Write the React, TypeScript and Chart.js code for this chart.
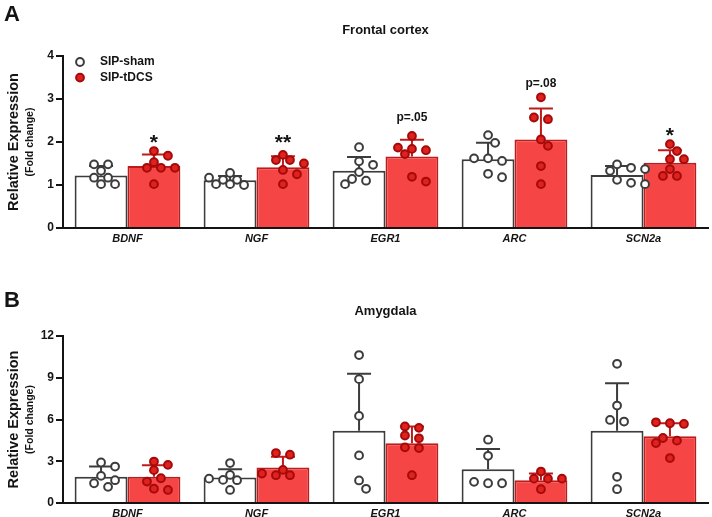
import React, { useEffect, useRef } from 'react';
import { Chart, registerables } from 'chart.js';

Chart.register(...registerables);

const FONT = '"Liberation Sans", Arial, Helvetica, sans-serif';
Chart.defaults.font.family = FONT;

// ---------- DATA ----------
const genes = ['BDNF', 'NGF', 'EGR1', 'ARC', 'SCN2a'];
const groupNames = ['SIP-sham', 'SIP-tDCS'];

// Panel A — Frontal cortex
const fcTitle = 'Frontal cortex';
const fcTicks = [0, 1, 2, 3, 4];
const fcShamMean = [1.22, 1.11, 1.33, 1.6, 1.23];
const fcShamSD = [0.22, 0.1, 0.32, 0.38, 0.21];
const fcTdcsMean = [1.44, 1.41, 1.66, 2.06, 1.52];
const fcTdcsSD = [0.27, 0.26, 0.39, 0.72, 0.29];
const fcShamDots = [
  [1.48, 1.48, 1.33, 1.17, 1.17, 1.02, 1.02],
  [1.28, 1.17, 1.12, 1.12, 1.02, 1.02, 1.0],
  [1.88, 1.55, 1.47, 1.3, 1.14, 1.1, 1.02],
  [2.16, 1.98, 1.62, 1.62, 1.56, 1.26, 1.18],
  [1.48, 1.4, 1.37, 1.33, 1.12, 1.05, 1.02],
];
const fcTdcsDots = [
  [1.79, 1.68, 1.53, 1.4, 1.4, 1.4, 1.02],
  [1.7, 1.58, 1.58, 1.5, 1.35, 1.25, 1.02],
  [2.14, 1.87, 1.84, 1.81, 1.72, 1.19, 1.08],
  [3.04, 2.57, 2.53, 2.06, 1.91, 1.44, 1.02],
  [1.95, 1.79, 1.6, 1.6, 1.37, 1.21, 1.21],
];
const fcSigText = ['*', '**', 'p=.05', 'p=.08', '*'];
const fcSigY = [1.84, 1.84, 2.5, 3.28, 2.0];

// Panel B — Amygdala
const amTitle = 'Amygdala';
const amTicks = [0, 3, 6, 9, 12];
const amShamMean = [1.88, 1.83, 5.2, 2.43, 5.2];
const amShamSD = [0.74, 0.6, 4.08, 1.45, 3.41];
const amTdcsMean = [1.88, 2.55, 4.3, 1.64, 4.79];
const amTdcsSD = [0.84, 0.77, 1.2, 0.48, 0.94];
const amShamDots = [
  [2.91, 2.62, 1.95, 1.64, 1.42, 1.16],
  [2.87, 2.02, 1.75, 1.66, 1.64, 0.94],
  [10.63, 8.9, 6.26, 3.42, 1.62, 1.02],
  [4.55, 3.39, 1.52, 1.42, 1.42],
  [10.0, 7.0, 5.97, 5.85, 1.88, 0.99],
];
const amTdcsDots = [
  [2.98, 2.74, 2.36, 1.78, 1.54, 1.03, 0.94],
  [3.59, 3.47, 2.38, 2.12, 2.0, 2.0],
  [5.5, 5.4, 4.85, 4.65, 4.0, 3.95, 2.0],
  [2.26, 1.75, 1.75, 1.75, 0.99],
  [5.8, 5.73, 5.68, 4.67, 4.48, 4.31, 3.23],
];
const amSigText: string[] = ['', '', '', '', ''];
const amSigY = [0, 0, 0, 0, 0];

// ---------- STYLE ----------
const INK = '#141414';
const SHAM_LINE = '#3c3c3c';
const RED_FILL = '#f54545';
const RED_BORDER = '#bd1c1c';
const RED_DOT = '#e0221f';
const RED_DOT_EDGE = '#a50a0a';
const DOT_R = 3.9;

type Spec = {
  letter: string;
  title: string;
  ticks: number[];
  shamMean: number[];
  shamSD: number[];
  tdcsMean: number[];
  tdcsSD: number[];
  shamDots: number[][];
  tdcsDots: number[][];
  sigText: string[];
  sigY: number[];
  legend: boolean;
  height: number;
  letterBase: number;
  titleY: number;
  areaTop: number;
  areaBottom: number;
};

function swarm(ys: number[]): number[] {
  const order = ys.map((_, i) => i).sort((a, b) => ys[a] - ys[b]);
  const placed: { x: number; y: number }[] = [];
  const out = new Array(ys.length).fill(0);
  const gap = 14;
  const minD = 8.5;
  let k = 0;
  while (k < order.length) {
    const row = [order[k]];
    let j = k + 1;
    while (j < order.length && ys[order[j]] - ys[order[k]] < 3) {
      row.push(order[j]);
      j++;
    }
    const n = row.length;
    const base = row.map((_, r) => (r - (n - 1) / 2) * gap);
    const shifts = [0, gap / 2, -gap / 2, gap, -gap, 1.5 * gap, -1.5 * gap];
    let chosen = 0;
    for (const s of shifts) {
      const ok = row.every((id, r) =>
        placed.every((p) => Math.hypot(p.x - (base[r] + s), p.y - ys[id]) >= minD)
      );
      if (ok) {
        chosen = s;
        break;
      }
    }
    row.forEach((id, r) => {
      out[id] = base[r] + chosen;
      placed.push({ x: out[id], y: ys[id] });
    });
    k = j;
  }
  return out;
}

function makeOverlay(spec: Spec) {
  return {
    id: 'overlay' + spec.letter,
    afterDatasetsDraw(chart: any) {
      const ctx: CanvasRenderingContext2D = chart.ctx;
      const yS = chart.scales.y;
      const series = [
        { mean: spec.shamMean, sd: spec.shamSD, dots: spec.shamDots, line: SHAM_LINE, fill: '#ffffff', edge: SHAM_LINE },
        { mean: spec.tdcsMean, sd: spec.tdcsSD, dots: spec.tdcsDots, line: RED_BORDER, fill: RED_DOT, edge: RED_DOT_EDGE },
      ];
      series.forEach((s, di) => {
        const meta = chart.getDatasetMeta(di);
        meta.data.forEach((bar: any, i: number) => {
          const x = bar.x;
          const yTop = yS.getPixelForValue(s.mean[i]);
          const yCap = yS.getPixelForValue(s.mean[i] + s.sd[i]);
          ctx.save();
          ctx.strokeStyle = s.line;
          ctx.lineWidth = 2;
          ctx.beginPath();
          ctx.moveTo(x, yTop);
          ctx.lineTo(x, yCap);
          ctx.moveTo(x - 12, yCap);
          ctx.lineTo(x + 12, yCap);
          ctx.stroke();
          const ys = s.dots[i].map((v) => yS.getPixelForValue(v));
          const offs = swarm(ys);
          ys.forEach((py, k) => {
            ctx.beginPath();
            ctx.arc(x + offs[k], py, DOT_R, 0, Math.PI * 2);
            ctx.fillStyle = s.fill;
            ctx.fill();
            ctx.lineWidth = 2;
            ctx.strokeStyle = s.edge;
            ctx.stroke();
          });
          ctx.restore();
        });
      });
      // significance labels
      const tMeta = chart.getDatasetMeta(1);
      ctx.save();
      ctx.fillStyle = INK;
      ctx.textAlign = 'center';
      ctx.textBaseline = 'alphabetic';
      spec.sigText.forEach((t, i) => {
        if (!t) return;
        const isStar = t.startsWith('*');
        ctx.font = isStar ? `bold 21px ${FONT}` : `bold 12px ${FONT}`;
        ctx.fillText(t, tMeta.data[i].x, yS.getPixelForValue(spec.sigY[i]));
      });
      ctx.restore();
    },
    afterDraw(chart: any) {
      const ctx: CanvasRenderingContext2D = chart.ctx;
      const area = chart.chartArea;
      ctx.save();
      ctx.fillStyle = INK;
      // panel letter
      ctx.font = `bold 22px ${FONT}`;
      ctx.textAlign = 'left';
      ctx.textBaseline = 'alphabetic';
      ctx.fillText(spec.letter, 4, spec.letterBase);
      // title
      ctx.font = `bold 13px ${FONT}`;
      ctx.textAlign = 'center';
      ctx.textBaseline = 'middle';
      ctx.fillText(spec.title, (area.left + area.right) / 2, spec.titleY);
      // y-axis title
      const cy = (area.top + area.bottom) / 2;
      ctx.save();
      ctx.translate(14, cy);
      ctx.rotate(-Math.PI / 2);
      ctx.font = `bold 14.5px ${FONT}`;
      ctx.textAlign = 'center';
      ctx.textBaseline = 'middle';
      ctx.fillText('Relative Expression', 0, 0);
      ctx.restore();
      ctx.save();
      ctx.translate(30, cy);
      ctx.rotate(-Math.PI / 2);
      ctx.font = `bold 10.5px ${FONT}`;
      ctx.textAlign = 'center';
      ctx.textBaseline = 'middle';
      ctx.fillText('(Fold change)', 0, 0);
      ctx.restore();
      // legend
      if (spec.legend) {
        const items = [
          { text: groupNames[0], fill: '#ffffff', edge: SHAM_LINE },
          { text: groupNames[1], fill: RED_DOT, edge: RED_DOT_EDGE },
        ];
        items.forEach((it, i) => {
          const ly = area.top + 6 + i * 15.6;
          ctx.beginPath();
          ctx.arc(area.left + 17, ly, DOT_R, 0, Math.PI * 2);
          ctx.fillStyle = it.fill;
          ctx.fill();
          ctx.lineWidth = 2;
          ctx.strokeStyle = it.edge;
          ctx.stroke();
          ctx.fillStyle = INK;
          ctx.font = `bold 12px ${FONT}`;
          ctx.textAlign = 'left';
          ctx.textBaseline = 'middle';
          ctx.fillText(it.text, area.left + 37, ly);
        });
      }
      ctx.restore();
    },
  };
}

function PanelChart({ spec }: { spec: Spec }) {
  const ref = useRef<HTMLCanvasElement>(null);
  useEffect(() => {
    const canvas = ref.current;
    if (!canvas) return;
    const maxTick = spec.ticks[spec.ticks.length - 1];
    const step = spec.ticks[1] - spec.ticks[0];
    const chart = new Chart(canvas, {
      type: 'bar',
      data: {
        labels: genes,
        datasets: [
          {
            label: groupNames[0],
            data: spec.shamMean,
            backgroundColor: '#ffffff',
            borderColor: SHAM_LINE,
            borderWidth: 2,
            categoryPercentage: 0.82,
            barPercentage: 1.0,
          },
          {
            label: groupNames[1],
            data: spec.tdcsMean,
            backgroundColor: RED_FILL,
            borderColor: RED_BORDER,
            borderWidth: 2,
            categoryPercentage: 0.82,
            barPercentage: 1.0,
          },
        ],
      },
      options: {
        responsive: false,
        maintainAspectRatio: false,
        animation: false,
        events: [],
        layout: { padding: { top: spec.areaTop, right: 4, left: 0, bottom: 0 } },
        plugins: {
          legend: { display: false },
          tooltip: { enabled: false },
          title: { display: false },
        },
        scales: {
          x: {
            type: 'category',
            offset: true,
            grid: { display: false, drawTicks: false },
            border: { display: true, color: INK, width: 2 },
            ticks: {
              color: INK,
              padding: 4,
              autoSkip: false,
              maxRotation: 0,
              font: { family: FONT, size: 11, weight: 'bold', style: 'italic' },
            },
            afterFit: (scale: any) => {
              scale.height = spec.height - spec.areaBottom;
            },
          },
          y: {
            min: 0,
            max: maxTick,
            ticks: {
              stepSize: step,
              color: INK,
              padding: 2,
              font: { family: FONT, size: 12, weight: 'bold' },
            },
            grid: {
              drawOnChartArea: false,
              drawTicks: true,
              tickLength: 7,
              color: INK,
              lineWidth: 2,
            },
            border: { display: true, color: INK, width: 2 },
            afterFit: (scale: any) => {
              scale.width = 63;
            },
          },
        },
      } as any,
      plugins: [makeOverlay(spec)],
    });
    return () => chart.destroy();
  }, [spec]);
  return (
    <div style={{ width: 712, height: spec.height }}>
      <canvas ref={ref} width={712} height={spec.height} style={{ display: 'block' }} />
    </div>
  );
}

const specA: Spec = {
  letter: 'A',
  title: fcTitle,
  ticks: fcTicks,
  shamMean: fcShamMean,
  shamSD: fcShamSD,
  tdcsMean: fcTdcsMean,
  tdcsSD: fcTdcsSD,
  shamDots: fcShamDots,
  tdcsDots: fcTdcsDots,
  sigText: fcSigText,
  sigY: fcSigY,
  legend: true,
  height: 260,
  letterBase: 21,
  titleY: 30,
  areaTop: 56,
  areaBottom: 228,
};

const specB: Spec = {
  letter: 'B',
  title: amTitle,
  ticks: amTicks,
  shamMean: amShamMean,
  shamSD: amShamSD,
  tdcsMean: amTdcsMean,
  tdcsSD: amTdcsSD,
  shamDots: amShamDots,
  tdcsDots: amTdcsDots,
  sigText: amSigText,
  sigY: amSigY,
  legend: false,
  height: 257,
  letterBase: 47,
  titleY: 51,
  areaTop: 76,
  areaBottom: 243,
};

export default function App() {
  return (
    <div style={{ position: 'absolute', left: 0, top: 0, width: 712, height: 517, background: '#ffffff' }}>
      <PanelChart spec={specA} />
      <PanelChart spec={specB} />
    </div>
  );
}
